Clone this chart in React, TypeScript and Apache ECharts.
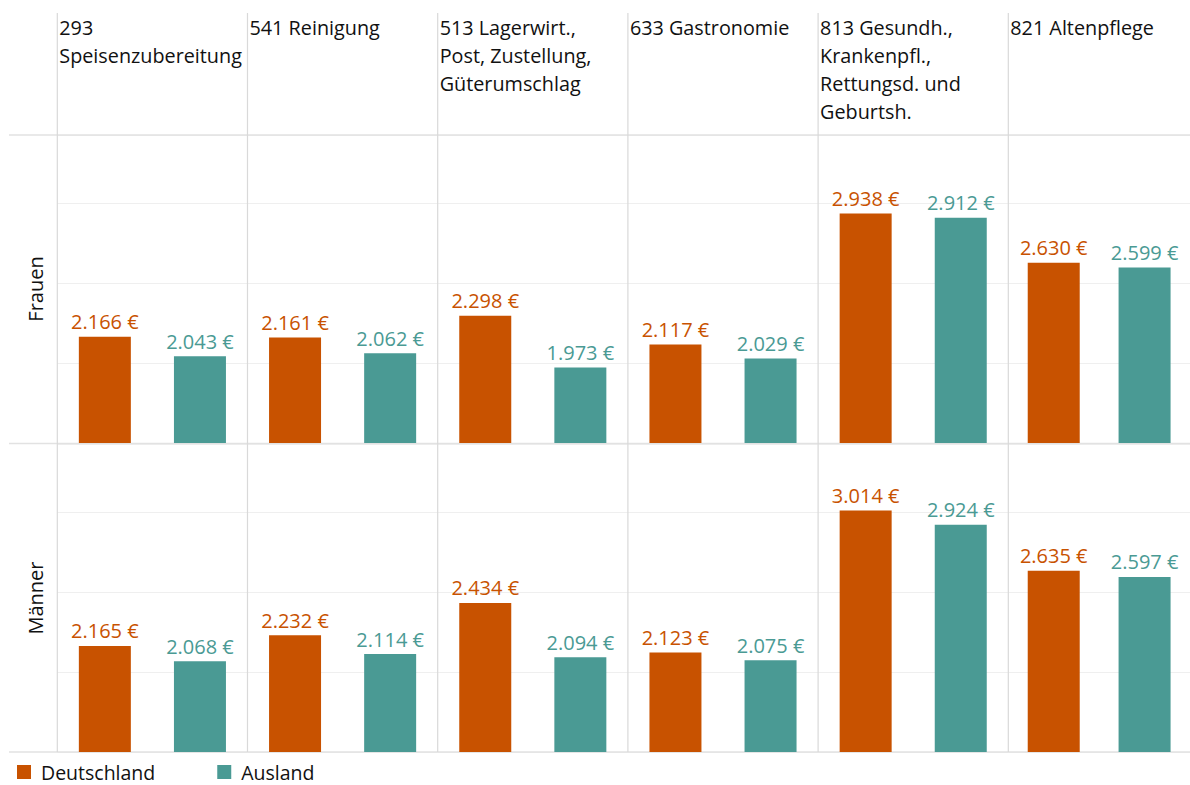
import React, { useEffect, useRef } from "react";
import * as echarts from "echarts";

const categories = [
  "293\nSpeisenzubereitung",
  "541 Reinigung",
  "513 Lagerwirt.,\nPost, Zustellung,\nGüterumschlag",
  "633 Gastronomie",
  "813 Gesundh.,\nKrankenpfl.,\nRettungsd. und\nGeburtsh.",
  "821 Altenpflege",
];
const rows = ["Frauen", "Männer"];
const seriesNames = ["Deutschland", "Ausland"];
const frauenDeutschland = [2166, 2161, 2298, 2117, 2938, 2630];
const frauenAusland = [2043, 2062, 1973, 2029, 2912, 2599];
const maennerDeutschland = [2165, 2232, 2434, 2123, 3014, 2635];
const maennerAusland = [2068, 2114, 2094, 2075, 2924, 2597];

const ORANGE = "#C85200";
const TEAL = "#4A9A94";
const FONT = "'Open Sans', sans-serif";

function fmt(v: number): string {
  const s = String(Math.round(v));
  return s.replace(/\B(?=(\d{3})+(?!\d))/g, ".") + " €";
}

export default function App() {
  const ref = useRef<HTMLDivElement>(null);
  useEffect(() => {
    document.body.style.margin = "0";
    const chart = echarts.init(ref.current!, null, { renderer: "svg" });
    const colLeft = 57.3;
    const colW = 190.2;
    const rowTops = [135, 444];
    const rowH = 308;
    const data = [
      [frauenDeutschland, frauenAusland],
      [maennerDeutschland, maennerAusland],
    ];
    const grids: any[] = [];
    const xAxes: any[] = [];
    const yAxes: any[] = [];
    const series: any[] = [];
    let idx = 0;
    for (let r = 0; r < rows.length; r++) {
      for (let c = 0; c < categories.length; c++) {
        grids.push({
          left: colLeft + c * colW,
          top: rowTops[r],
          width: colW,
          height: rowH,
          containLabel: false,
        });
        xAxes.push({
          gridIndex: idx,
          type: "category",
          data: seriesNames,
          axisLine: { show: false },
          axisTick: { show: false },
          axisLabel: { show: false },
        });
        yAxes.push({
          gridIndex: idx,
          type: "value",
          min: 1500,
          max: 3430,
          interval: 500,
          axisLine: { show: false },
          axisTick: { show: false },
          axisLabel: { show: false },
          splitLine: { show: true, lineStyle: { color: "#efefef", width: 1 } },
        });
        for (let s = 0; s < 2; s++) {
          const color = s === 0 ? ORANGE : TEAL;
          const d = s === 0 ? [data[r][s][c], null] : [null, data[r][s][c]];
          series.push({
            name: seriesNames[s],
            type: "bar",
            xAxisIndex: idx,
            yAxisIndex: idx,
            data: d,
            barWidth: 52,
            barGap: "-100%",
            itemStyle: { color },
            label: {
              show: true,
              position: "top",
              distance: 5,
              color,
              fontFamily: FONT,
              fontSize: 20,
              formatter: (p: any) => fmt(p.value),
            },
          });
        }
        idx++;
      }
    }

    const graphic: any[] = [];
    [135, 443.5, 752].forEach((y) => {
      graphic.push({
        type: "line",
        shape: { x1: 9, y1: y, x2: 1190, y2: y },
        style: { stroke: "#e2e2e2", lineWidth: 1.5 },
        z: 1,
      });
    });
    for (let c = 0; c <= categories.length; c++) {
      const x = colLeft + c * colW;
      graphic.push({
        type: "line",
        shape: { x1: x, y1: 13, x2: x, y2: 752 },
        style: { stroke: "#d9d9d9", lineWidth: 1.2 },
        z: 1,
      });
    }
    categories.forEach((cat, c) => {
      graphic.push({
        type: "text",
        x: colLeft + c * colW + 2,
        y: 13,
        style: {
          text: cat,
          fontFamily: FONT,
          fontSize: 19.8,
          lineHeight: 28,
          fill: "#111",
          verticalAlign: "top",
          align: "left",
        },
        z: 5,
      });
    });
    rows.forEach((row, r) => {
      graphic.push({
        type: "text",
        x: 35,
        y: rowTops[r] + rowH / 2,
        rotation: Math.PI / 2,
        style: {
          text: row,
          fontFamily: FONT,
          fontSize: 20,
          fill: "#111",
          align: "center",
          verticalAlign: "middle",
        },
        z: 5,
      });
    });

    chart.setOption({
      animation: false,
      grid: grids,
      xAxis: xAxes,
      yAxis: yAxes,
      series,
      graphic,
      legend: {
        data: seriesNames,
        left: 12,
        top: 762,
        padding: [0, 5, 0, 5],
        icon: "rect",
        itemWidth: 14,
        itemHeight: 14,
        itemGap: 62,
        textStyle: {
          fontFamily: FONT,
          fontSize: 19.5,
          lineHeight: 20,
          color: "#111",
          padding: [0, 0, 0, 5],
        },
      },
    });
    return () => chart.dispose();
  }, []);
  return <div ref={ref} style={{ width: 1190, height: 785 }} />;
}
